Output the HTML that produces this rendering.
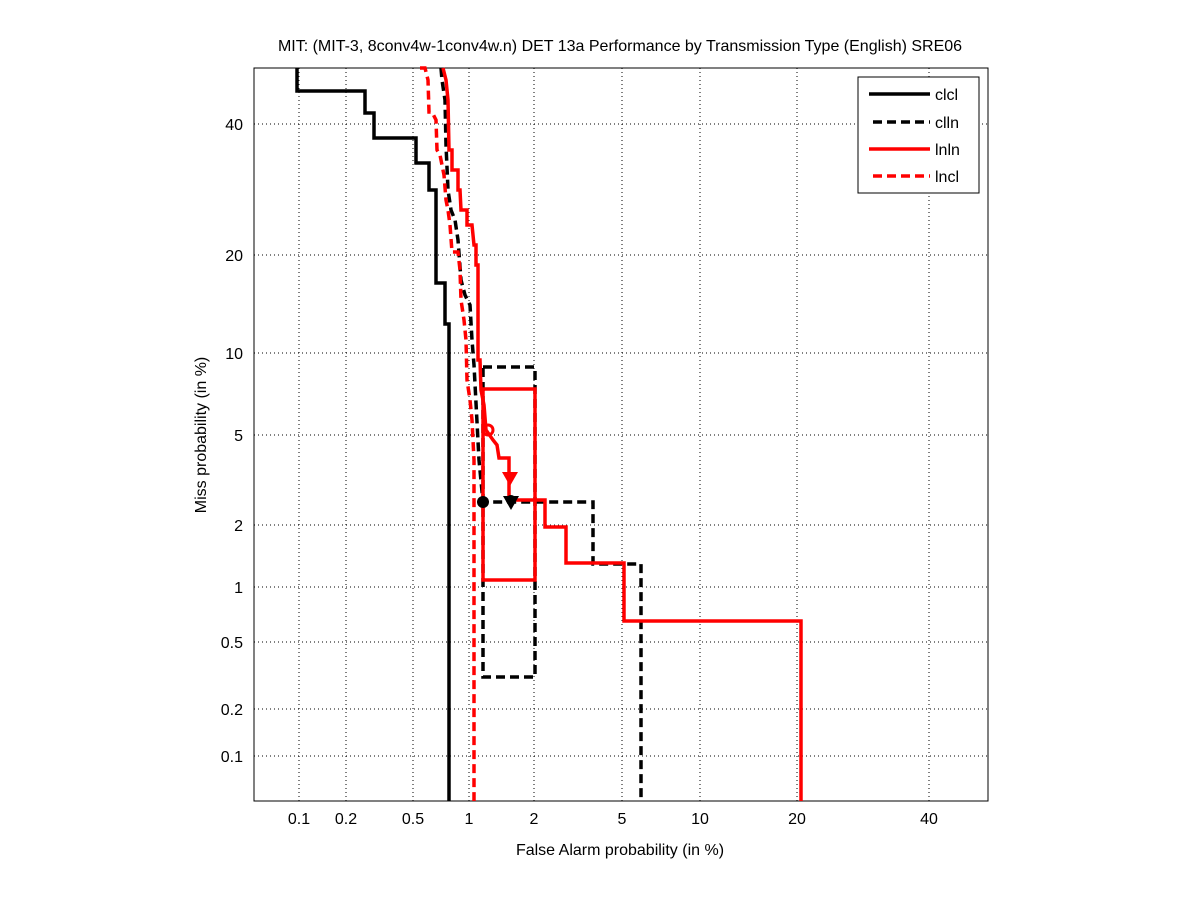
<!DOCTYPE html>
<html><head><meta charset="utf-8"><style>body{margin:0;background:#fff}svg{display:block}text{font-family:"Liberation Sans",sans-serif;font-size:16px}</style></head>
<body><svg width="1201" height="900" xmlns="http://www.w3.org/2000/svg">
<rect width="1201" height="900" fill="#fff"/>
<g stroke="#000" stroke-width="1" stroke-dasharray="1,3">
<line x1="299" y1="68" x2="299" y2="801"/><line x1="346" y1="68" x2="346" y2="801"/><line x1="413" y1="68" x2="413" y2="801"/><line x1="469" y1="68" x2="469" y2="801"/><line x1="534" y1="68" x2="534" y2="801"/><line x1="622" y1="68" x2="622" y2="801"/><line x1="700" y1="68" x2="700" y2="801"/><line x1="797" y1="68" x2="797" y2="801"/><line x1="929" y1="68" x2="929" y2="801"/>
<line x1="254" y1="124" x2="988" y2="124"/><line x1="254" y1="255" x2="988" y2="255"/><line x1="254" y1="353" x2="988" y2="353"/><line x1="254" y1="435" x2="988" y2="435"/><line x1="254" y1="525" x2="988" y2="525"/><line x1="254" y1="587" x2="988" y2="587"/><line x1="254" y1="642" x2="988" y2="642"/><line x1="254" y1="709" x2="988" y2="709"/><line x1="254" y1="756" x2="988" y2="756"/>
</g>
<rect x="254" y="68" width="734" height="733" fill="none" stroke="#000"/>
<g fill="none" stroke-width="3.5">
<polyline stroke="#000" points="297,68 297,91 365,91 365,113 374,113 374,138 416,138 416,163 429,163 429,190 436,190 436,283 445,283 445,324 449,324 449,801"/>
<g stroke="#000" stroke-dasharray="9,5">
<polyline points="441,68 442,80 445,100 446,145 448,190 451,210 455,220 458,240 461,280 465,295 470,305 472,340 474,365 479,460 483,502 593,502 593,564 641,564 641,801"/>
<rect x="483" y="367" width="52" height="310"/>
</g>
<polyline stroke="#f00" points="443,68 446,80 448,100 449,150 452,150 452,170 458,170 458,190 460,190 461,210 467,210 467,225 472,225 474,245 476,245 476,265 478,265 478,360 480,360 481,390 484,405 486,430 493,440 497,445 499,458 509,458 509,500 545,500 545,527 566,527 566,563 624,563 624,621 801,621 801,801"/>
<rect x="483" y="389" width="52" height="191" stroke="#f00"/>
<polyline stroke="#f00" stroke-dasharray="9,5" points="420,68 425,68 428,80 429,112 432,112 436,120 437,150 440,155 444,175 446,200 448,210 450,225 452,252 458,252 460,270 461,300 464,320 466,340 467,380 470,400 472,420 474,460 474,801"/>
</g>
<circle cx="483" cy="502" r="6" fill="#000"/>
<path d="M503,496 L519,496 L511,510 Z" fill="#000"/><circle cx="511" cy="500" r="5" fill="#000"/>
<circle cx="488" cy="430" r="5" fill="none" stroke="#f00" stroke-width="3"/>
<path d="M502,472 L518,472 L510,486 Z" fill="#f00"/>
<g text-anchor="middle">
<text x="299" y="824">0.1</text><text x="346" y="824">0.2</text><text x="413" y="824">0.5</text><text x="469" y="824">1</text><text x="534" y="824">2</text><text x="622" y="824">5</text><text x="700" y="824">10</text><text x="797" y="824">20</text><text x="929" y="824">40</text>
<text x="620" y="855" font-size="17">False Alarm probability (in %)</text>
<text x="620" y="51" font-size="17">MIT: (MIT-3, 8conv4w-1conv4w.n) DET 13a Performance by Transmission Type (English) SRE06</text>
<text transform="translate(206,435) rotate(-90)" font-size="17">Miss probability (in %)</text>
</g>
<g text-anchor="end">
<text x="243" y="130">40</text><text x="243" y="261">20</text><text x="243" y="359">10</text><text x="243" y="441">5</text><text x="243" y="531">2</text><text x="243" y="593">1</text><text x="243" y="648">0.5</text><text x="243" y="715">0.2</text><text x="243" y="762">0.1</text>
</g>
<rect x="858" y="77" width="121" height="116" fill="#fff" stroke="#000"/>
<g stroke-width="3.5">
<line x1="869" y1="94" x2="930" y2="94" stroke="#000"/>
<line x1="873" y1="122" x2="930" y2="122" stroke="#000" stroke-dasharray="9,5"/>
<line x1="869" y1="149" x2="930" y2="149" stroke="#f00"/>
<line x1="873" y1="176" x2="930" y2="176" stroke="#f00" stroke-dasharray="9,5"/>
</g>
<text x="935" y="100">clcl</text><text x="935" y="128">clln</text><text x="935" y="155">lnln</text><text x="935" y="182">lncl</text>
</svg></body></html>
